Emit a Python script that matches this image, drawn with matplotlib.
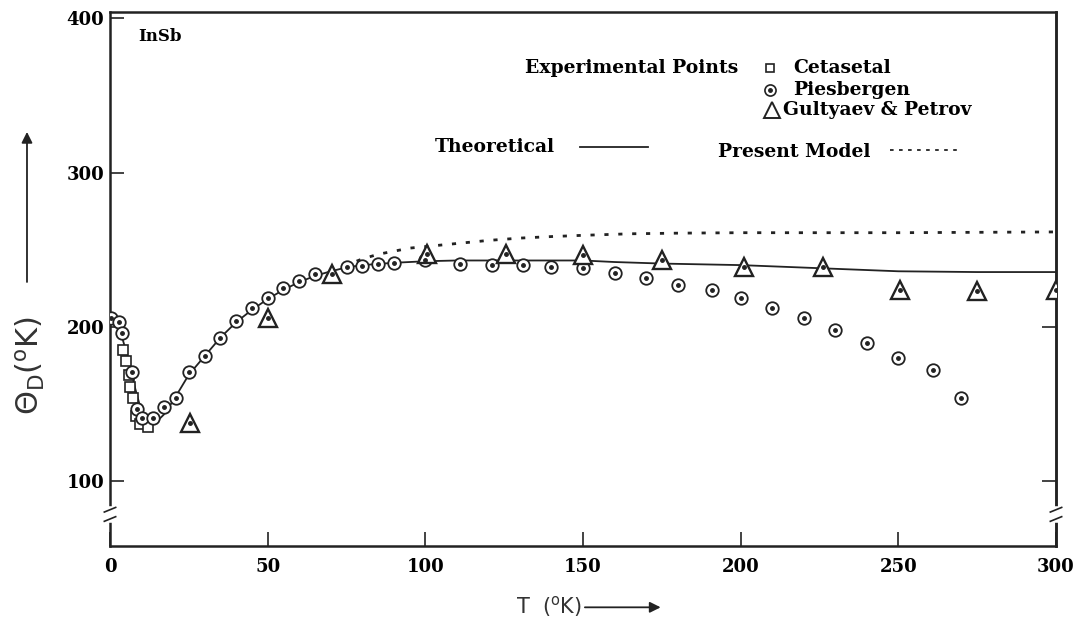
import numpy as np
import matplotlib.pyplot as plt
from matplotlib.transforms import blended_transform_factory

# Cetasetal (squares)
T_cet = [4, 5, 6, 6.5, 7.3, 8.3, 9.5, 12]
v_cet = [185, 178, 169, 161, 154, 142, 137, 135]

# Piesbergen (dotted circles)
T_pie = [0.3, 3, 3.7, 6.9, 8.5, 10, 13.7, 17, 21, 25, 30, 35, 40, 45, 50, 55, 60, 65,
         75, 80, 85, 90, 100, 111, 121, 131, 140, 150, 160, 170, 180, 191, 200,
         210, 220, 230, 240, 250, 261, 270]
v_pie = [206, 203, 196, 171, 147, 141, 141, 148, 154, 171, 181, 193, 204, 212, 219, 225, 230, 234,
         238.6, 239.3, 240.6, 241.2, 243, 241, 240, 240, 239, 238, 234.7, 231.5, 227, 223.7, 218.5,
         212, 205.6, 198, 189.4, 180, 172, 153.7]

# Gultyaev & Petrov (triangles)
T_gul = [25.5, 50, 70.5, 100.5, 125.5, 150, 175, 201, 226, 250.5, 275, 300]
v_gul = [137.5, 206, 234.5, 247.5, 247.5, 246.4, 243, 238.8, 238.8, 223.7, 223.3, 223.7]

# Theoretical (solid)
T_theo = [0, 2, 4, 6, 8, 10, 12, 14, 17, 20, 25, 30, 35, 40, 45, 50, 55, 60, 65, 70, 75, 80,
          90, 100, 110, 120, 130, 140, 150, 160, 175, 200, 225, 250, 275, 300]
v_theo = [205, 201, 192, 178, 160, 145, 137, 137, 143, 152, 169, 181, 193, 203, 211, 218, 224,
          229, 233, 236, 238.5, 240, 241.5, 242.5, 243, 243, 243, 243, 243, 242, 241, 240,
          238, 236, 235.5, 235.5]

# Present model (dotted)
T_pm = [70, 75, 80, 85, 90, 95, 100, 110, 120, 130, 140, 150, 165, 180, 200, 250, 300]
v_pm = [236, 240, 244, 247, 249, 251, 252, 254, 256, 257.5, 258.5, 259.3, 260.3, 260.7, 261, 261, 261.5]

x_ticks = [0, 50, 100, 150, 200, 250, 300]
y_ticks = [100, 200, 300, 400]

fig = plt.figure(figsize=(10.84, 6.30), dpi=100)
ax = fig.add_axes([110/1084, 1-546/630, 946/1084, 534/630])

ink = '#222222'
ax.plot(T_theo, v_theo, color=ink, lw=1.3, zorder=2)
ax.plot(T_pm, v_pm, color=ink, lw=2.0, ls=(0, (1.5, 3.5)), zorder=2)

ax.plot(T_cet, v_cet, ls='none', marker='s', ms=6.5, mfc='white', mec=ink, mew=1.2, zorder=3)
ax.plot(T_pie, v_pie, ls='none', marker='o', ms=9, mfc='white', mec=ink, mew=1.3, zorder=4)
ax.plot(T_pie, v_pie, ls='none', marker='o', ms=2.5, color=ink, zorder=5)
ax.plot(T_gul, v_gul, ls='none', marker='^', ms=12.5, mfc='white', mec=ink, mew=1.7, zorder=4)
ax.plot(T_gul, v_gul, ls='none', marker='o', ms=2.5, color=ink, zorder=5)

ax.set_xlim(0, 300)
ax.set_ylim(58, 404)

serif = {'family': 'DejaVu Serif', 'weight': 'bold', 'size': 13}
leg = {'family': 'DejaVu Serif', 'weight': 'bold', 'size': 13.5}
ax.set_xticks(x_ticks)
ax.set_xticklabels([str(t) for t in x_ticks], fontdict=serif)
ax.set_yticks(y_ticks)
ax.set_yticklabels([str(t) for t in y_ticks], fontdict=serif)
ax.tick_params(direction='in', length=10, width=1.2, color=ink)
ax.tick_params(axis='x', pad=9)
ax.tick_params(axis='y', pad=4)
for s in ax.spines.values():
    s.set_linewidth(1.8)
    s.set_color(ink)

sec = ax.secondary_yaxis('right')
sec.set_yticks([100, 200])
sec.set_yticklabels(['', ''])
sec.tick_params(direction='in', length=10, width=1.2, color=ink)
sec.spines['right'].set_linewidth(1.8)
sec.spines['right'].set_color(ink)

# axis break marks
trans = blended_transform_factory(ax.transAxes, ax.transData)
for xa in (0, 1):
    ax.plot([xa, xa], [75, 82], transform=trans, color='white', lw=4, clip_on=False, zorder=6)
    for yb in (75.5, 81.5):
        ax.plot([xa - 0.006, xa + 0.006], [yb - 1.5, yb + 1.5], transform=trans,
                color=ink, lw=1.2, clip_on=False, zorder=7)

# texts and legend
ax.text(0.03, 0.955, 'InSb', transform=ax.transAxes, va='center', ha='left',
        family='DejaVu Serif', weight='bold', size=12)
ax.text(0.4387, 0.895, 'Experimental Points', transform=ax.transAxes, va='center', ha='left', fontdict=leg)
ax.plot([0.6977], [0.895], transform=ax.transAxes, marker='s', ms=6, mfc='white', mec=ink, mew=1.2, clip_on=False)
ax.text(0.722, 0.895, 'Cetasetal', transform=ax.transAxes, va='center', ha='left', fontdict=leg)
ax.plot([0.6977], [0.854], transform=ax.transAxes, marker='o', ms=8, mfc='white', mec=ink, mew=1.2, clip_on=False)
ax.plot([0.6977], [0.854], transform=ax.transAxes, marker='o', ms=2.5, color=ink, clip_on=False)
ax.text(0.722, 0.854, 'Piesbergen', transform=ax.transAxes, va='center', ha='left', fontdict=leg)
ax.plot([0.6998], [0.8165], transform=ax.transAxes, marker='^', ms=11, mfc='white', mec=ink, mew=1.4, clip_on=False)
ax.text(0.711, 0.8165, 'Gultyaev & Petrov', transform=ax.transAxes, va='center', ha='left', fontdict=leg)
ax.text(0.3436, 0.747, 'Theoretical', transform=ax.transAxes, va='center', ha='left', fontdict=leg)
ax.plot([0.497, 0.569], [0.747, 0.747], transform=ax.transAxes, color=ink, lw=1.3)
ax.text(0.6427, 0.738, 'Present Model', transform=ax.transAxes, va='center', ha='left', fontdict=leg)
ax.plot([0.8245, 0.9006], [0.7416, 0.7416], transform=ax.transAxes, color=ink, lw=1.3, ls=(0, (2, 3)))

# axis labels with arrows
fig.text(0.0277, 0.42, r'$\Theta_{\rm D}$($^{\rm o}$K)', rotation=90, ha='center', va='center',
         fontsize=22, family='DejaVu Sans', color='#333333')
fig.add_artist(plt.Annotation('', xy=(0.0249, 0.795), xytext=(0.0249, 0.548), xycoords='figure fraction',
                              arrowprops=dict(arrowstyle='-|>', color=ink, lw=1.3, mutation_scale=16)))
fig.text(0.5065, 0.038, r'T  ($^{\rm o}$K)', ha='center', va='center', fontsize=15,
         family='DejaVu Sans', color='#333333')
fig.add_artist(plt.Annotation('', xy=(0.612, 0.036), xytext=(0.537, 0.036), xycoords='figure fraction',
                              arrowprops=dict(arrowstyle='-|>', color=ink, lw=1.3, mutation_scale=16)))

fig.savefig('out.png', dpi=100, facecolor='white')
